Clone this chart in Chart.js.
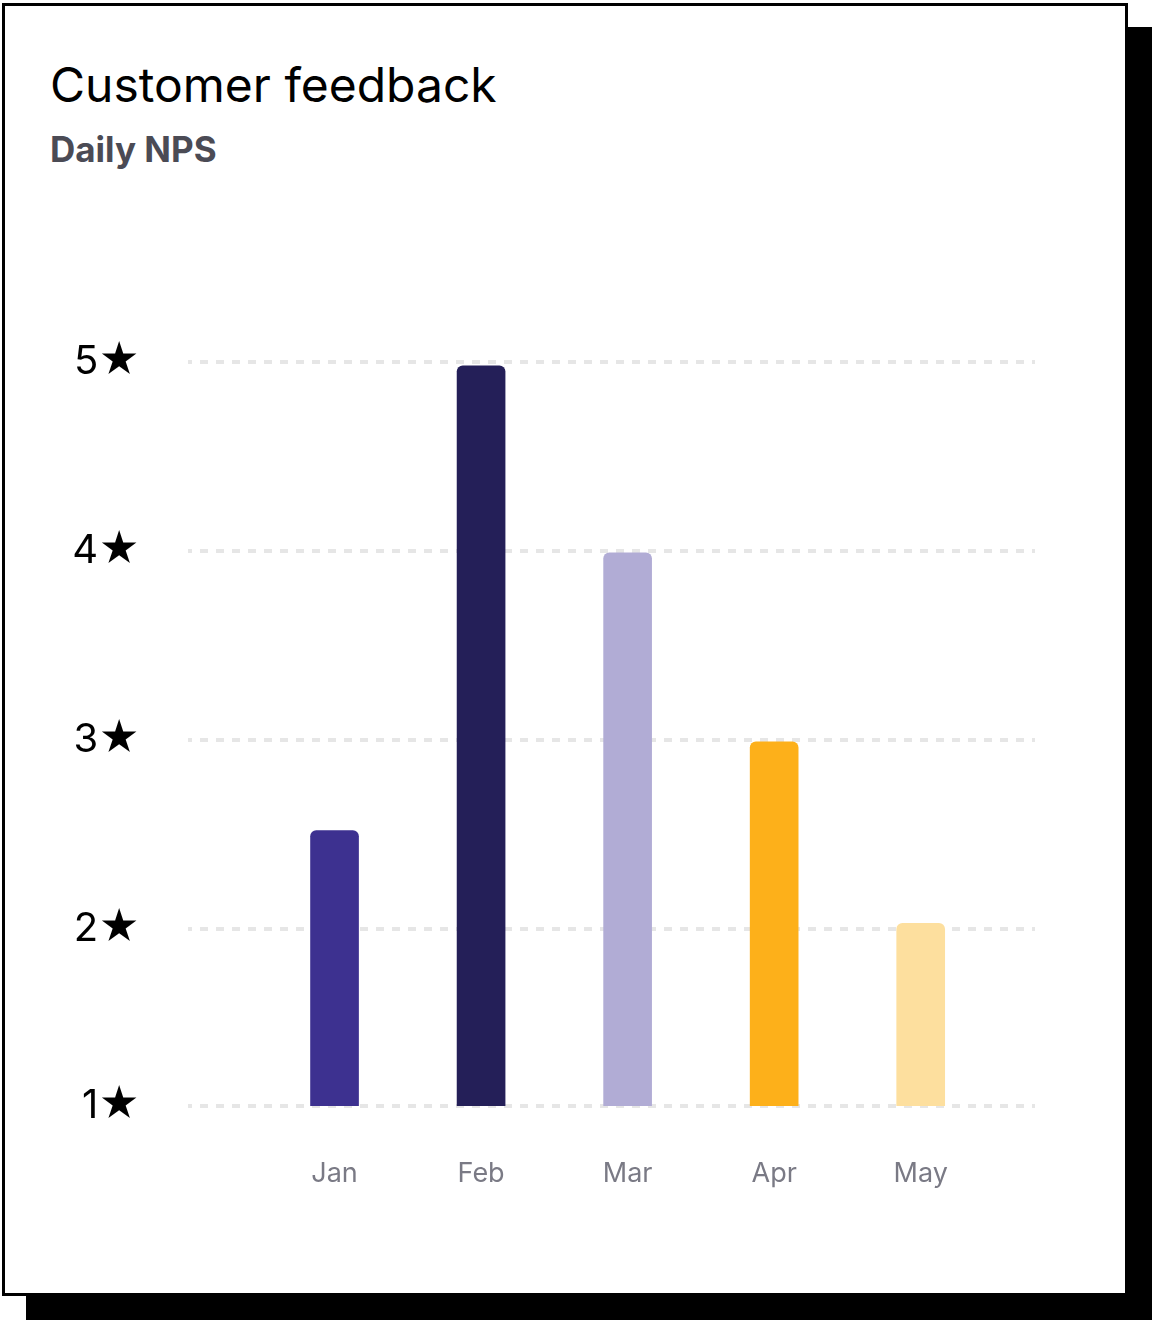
<!DOCTYPE html>
<html>
<head>
<meta charset="utf-8">
<script src="https://cdn.jsdelivr.net/npm/chart.js@4"></script>
<style>
    html, body { margin: 0; padding: 0; background: #fff; }
    body { width: 1153px; height: 1321px; position: relative; overflow: hidden; font-family: 'Inter', sans-serif; }
    .card {
        position: absolute; left: 2px; top: 3px; width: 1126px; height: 1293px;
        box-sizing: border-box; border: 3px solid #000; background: #fff;
        box-shadow: 24px 24px 0 #000;
    }
    .title { position: absolute; left: 50px; top: 56px; font-size: 48px; color: #000; line-height: 1.2; }
    .subtitle { position: absolute; left: 50px; top: 128px; font-size: 35px; font-weight: 700; color: #4b4b55; line-height: 1.2; }
    #wrap { position: absolute; left: 0; top: 0; width: 1153px; height: 1321px; }
</style>
</head>
<body>
<div class="card"></div>
<div class="title">Customer feedback</div>
<div class="subtitle">Daily NPS</div>
<div id="wrap"><canvas id="npsChart"></canvas></div>

<script>
'use strict';

// datos del gráfico
const months = ['Jan', 'Feb', 'Mar', 'Apr', 'May'];
const scores = [2.52, 4.98, 3.99, 2.99, 2.03];
const barColors = ['#3d3190', '#241f58', '#b1acd5', '#fdb01a', '#fddf9e'];
const yTicks = [1, 2, 3, 4, 5];
const yMin = 1.063;
const yMax = 5.05;

function initChart() {
    const ctx = document.getElementById('npsChart');
    if (!ctx) return;

    new Chart(ctx, {
        type: 'bar',
        data: {
            datasets: [{
                data: months.map((m, i) => ({ x: i, y: scores[i] })),
                backgroundColor: barColors,
                borderRadius: 6,
                borderSkipped: false,
                barThickness: 48
            }]
        },
        options: {
            responsive: true,
            maintainAspectRatio: false,
            animation: false,
            layout: {
                padding: { left: 0, right: 118, top: 352.5, bottom: 115 }
            },
            scales: {
                x: {
                    type: 'linear',
                    offset: false,
                    min: -1,
                    max: 4.78,
                    afterBuildTicks: (scale) => {
                        scale.ticks = months.map((m, i) => ({ value: i }));
                    },
                    afterFit: (scale) => { scale.height = 100; },
                    ticks: {
                        padding: 44,
                        autoSkip: false,
                        maxRotation: 0,
                        callback: (v) => months[v],
                        color: '#7a7a85',
                        font: { size: 27, family: "'Inter', sans-serif" }
                    },
                    grid: { display: false },
                    border: { display: false }
                },
                y: {
                    min: yMin,
                    max: yMax,
                    afterBuildTicks: (scale) => {
                        scale.ticks = yTicks.map(v => ({ value: Math.max(v, yMin) }));
                    },
                    afterFit: (scale) => { scale.width = 188; },
                    ticks: {
                        padding: 48,
                        callback: (v) => Math.round(v) + '★',
                        color: '#000',
                        font: { size: 40, family: "'Inter', sans-serif" }
                    },
                    grid: {
                        color: '#e6e6e6',
                        lineWidth: 4,
                        drawTicks: false
                    },
                    border: { display: false, dash: [8, 8], dashOffset: 4 }
                }
            },
            plugins: {
                legend: { display: false },
                tooltip: { enabled: false }
            }
        }
    });
}

initChart();
</script>
</body>
</html>
